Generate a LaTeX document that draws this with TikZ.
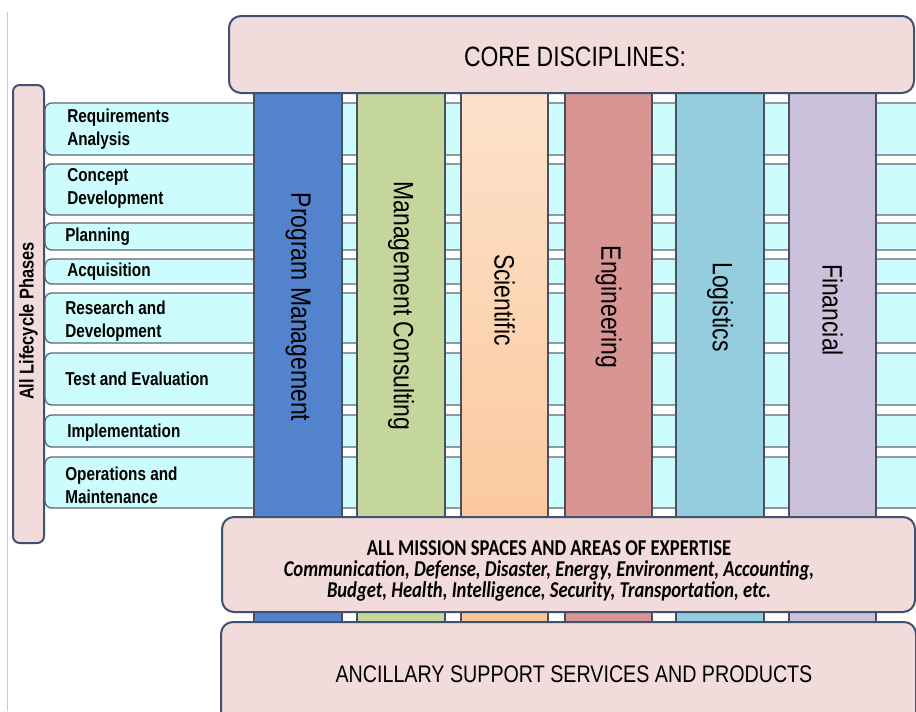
\documentclass[tikz,border=0pt]{standalone}
\usepackage{fontspec}
\setmainfont{Liberation Sans}
\newfontfamily\narrowsans[FakeStretch=0.82]{Liberation Sans}
\newfontfamily\narrowcal[FakeStretch=0.82]{Carlito}

\definecolor{boxpink}{RGB}{242,220,219}
\definecolor{slate}{RGB}{62,82,112}
\definecolor{rowcyan}{RGB}{204,252,253}
\definecolor{rowline}{RGB}{92,102,112}
\definecolor{colline}{RGB}{70,80,96}
\definecolor{pmblue}{RGB}{82,131,204}
\definecolor{mcgreen}{RGB}{196,214,156}
\definecolor{scitop}{RGB}{253,228,206}
\definecolor{scibot}{RGB}{250,194,146}
\definecolor{engred}{RGB}{217,149,148}
\definecolor{logblue}{RGB}{147,205,222}
\definecolor{finlilac}{RGB}{204,193,218}

\tikzset{
  panel/.style={draw=slate, line width=1.5pt, fill=boxpink, rounded corners=9pt},
  phase/.style={draw=rowline, line width=1pt, fill=rowcyan, rounded corners=5pt},
  discipline/.style={draw=colline, line width=0.8pt},
  phaselabel/.style={anchor=west, align=left, inner sep=0pt,
    font=\narrowsans\bfseries\fontsize{14}{17.25}\selectfont},
  colname/.style={rotate=-90, font=\narrowsans\fontsize{21}{21}\selectfont},
  boxtitle/.style={font=\narrowsans\fontsize{21}{21}\selectfont}
}

\begin{document}
\begin{tikzpicture}[x=0.75pt,y=-0.75pt]
    \clip (0,0) rectangle (916,711);
    % frame line
    \draw [black!20, line width=0.75pt] (7,12) -- (7,711);
    % lifecycle phases
    \draw [panel, rounded corners=5pt] (13,85) rectangle (44,543);
    \node [rotate=90, font=\narrowsans\bfseries\fontsize{15}{15}\selectfont] (life) at (28.5,321) {All Lifecycle Phases};
    % rows
    \draw [phase] (45,103) rectangle (940,155);
    \node [phaselabel] (req) at (67,129) {Requirements\\Analysis};
    \draw [phase] (45,164) rectangle (940,215);
    \node [phaselabel] (concept) at (67,188) {Concept\\Development};
    \draw [phase] (45,223) rectangle (940,250);
    \node [phaselabel] (plan) at (65,237) {Planning};
    \draw [phase] (45,259) rectangle (940,284);
    \node [phaselabel] (acq) at (67,271.5) {Acquisition};
    \draw [phase] (45,293) rectangle (940,343);
    \node [phaselabel] (rnd) at (65,321) {Research and\\Development};
    \draw [phase] (45,353) rectangle (940,405);
    \node [phaselabel] (test) at (65,379) {Test and Evaluation};
    \draw [phase] (45,415) rectangle (940,447);
    \node [phaselabel] (impl) at (67,433) {Implementation};
    \draw [phase] (45,457) rectangle (940,508);
    \node [phaselabel] (ops) at (65,485) {Operations and\\Maintenance};
    % disciplines
    \draw [discipline, fill=pmblue] (254,60) rectangle (342,640);
    \node [colname] (pm) at (298,307) {Program Management};
    \draw [discipline, fill=mcgreen] (357,60) rectangle (445,640);
    \node [colname] (mc) at (401,306) {Management Consulting};
    \shade [top color=scitop, bottom color=scibot] (461,60) rectangle (548,640);
    \draw [discipline] (461,60) rectangle (548,640);
    \node [colname] (sci) at (504.5,300) {Scientific};
    \draw [discipline, fill=engred] (565,60) rectangle (652,640);
    \node [colname] (eng) at (608.5,307) {Engineering};
    \draw [discipline, fill=logblue] (676,60) rectangle (764,640);
    \node [colname] (log) at (720,307) {Logistics};
    \draw [discipline, fill=finlilac] (789,60) rectangle (876,640);
    \node [colname] (fin) at (832.5,310) {Financial};
    % core disciplines
    \draw [panel] (229,16) rectangle (914,93);
    \node [boxtitle] (core) at (575,57) {CORE DISCIPLINES:};
    % mission spaces
    \draw [panel] (222,517) rectangle (915,612);
    \node [align=center, font=\narrowcal\bfseries\fontsize{17}{15.5}\selectfont] (mission) at (549,571)
      {ALL MISSION SPACES AND AREAS OF EXPERTISE\\
       \itshape Communication, Defense, Disaster, Energy, Environment, Accounting,\\
       \itshape Budget, Health, Intelligence, Security, Transportation, etc.};
    % ancillary
    \draw [panel] (221,622) rectangle (916,770);
    \node [font=\narrowsans\fontsize{18}{18}\selectfont] (ancillary) at (574,674) {ANCILLARY SUPPORT SERVICES AND PRODUCTS};
\end{tikzpicture}
\end{document}
